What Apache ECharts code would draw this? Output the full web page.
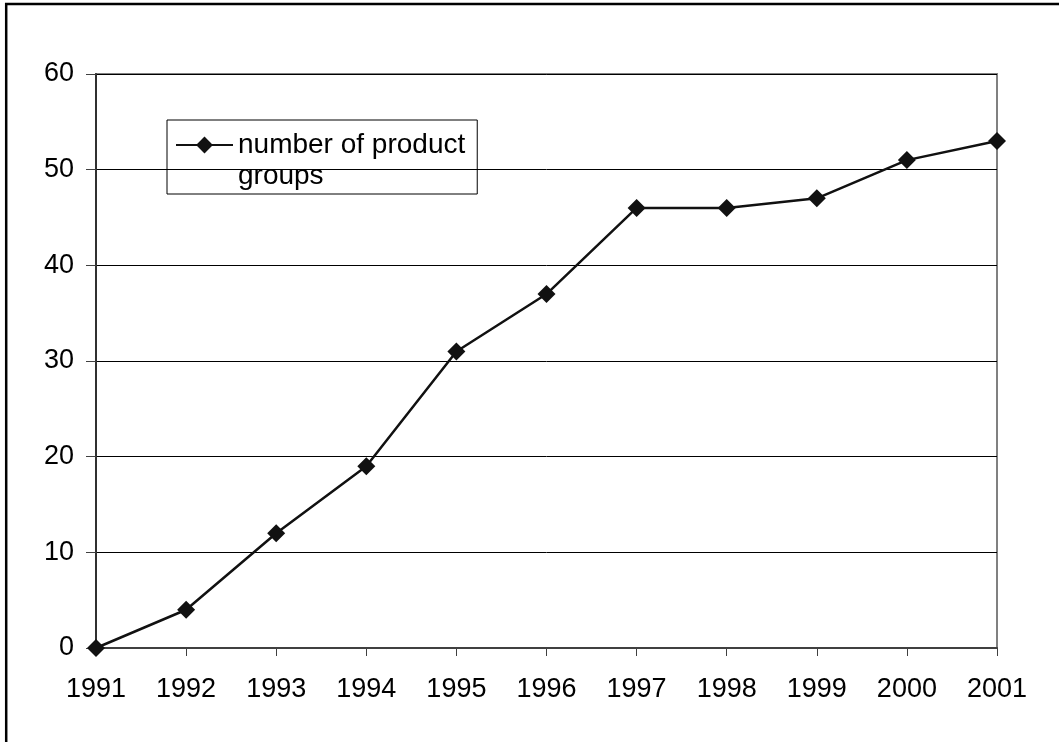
<!DOCTYPE html>
<html>
<head>
<meta charset="utf-8">
<script src="https://cdn.jsdelivr.net/npm/echarts@6/dist/echarts.min.js"></script>
<style>
html,body{margin:0;padding:0;background:#fff;}
#c{width:1059px;height:742px;}
</style>
</head>
<body>
<div id="c"></div>
<script>
const years = ['1991','1992','1993','1994','1995','1996','1997','1998','1999','2000','2001'];
const productGroups = [0, 4, 12, 19, 31, 37, 46, 46, 47, 51, 53];
const seriesName = 'number of product groups';
const legendLine1 = 'number of product';
const legendLine2 = 'groups';
const yMin = 0, yMax = 60, yStep = 10;

const chart = echarts.init(document.getElementById('c'));
const font = 'Liberation Sans, Arial, sans-serif';
chart.setOption({
  animation: false,
  backgroundColor: '#ffffff',
  grid: {
    left: 96, right: 62, top: 74, bottom: 94,
    show: true, borderColor: '#808080', borderWidth: 2, backgroundColor: 'transparent'
  },
  legend: {
    left: 167, top: 120,
    orient: 'vertical',
    padding: [10, 12, 34, 8],
    borderColor: '#000', borderWidth: 1,
    itemWidth: 57, itemHeight: 21, itemGap: 6,
    data: [{name: seriesName}],
    formatter: () => legendLine1,
    textStyle: {fontFamily: font, fontSize: 28, color: '#000', lineHeight: 30},
    selectedMode: false
  },
  graphic: [
    {type: 'line', shape: {x1: 5, y1: 4, x2: 1059, y2: 4}, style: {stroke: '#000', lineWidth: 2.5}, z: 100},
    {type: 'line', shape: {x1: 6.2, y1: 3, x2: 6.2, y2: 742}, style: {stroke: '#000', lineWidth: 2.5}, z: 100},
    {type: 'text', left: 238, top: 162, style: {text: legendLine2, font: '28px ' + font, fill: '#000'}, z: 100}
  ],
  xAxis: {
    type: 'category',
    data: years,
    boundaryGap: false,
    axisLine: {lineStyle: {color: '#404040', width: 2}},
    axisTick: {show: true, length: 8, inside: false, lineStyle: {color: '#404040', width: 1}},
    axisLabel: {fontFamily: font, fontSize: 27, color: '#000', margin: 28, interval: 0},
    splitLine: {show: false}
  },
  yAxis: {
    type: 'value',
    min: yMin, max: yMax, interval: yStep,
    axisLine: {show: true, lineStyle: {color: '#303030', width: 2}},
    axisTick: {show: true, length: 10, lineStyle: {color: '#404040', width: 1}},
    axisLabel: {fontFamily: font, fontSize: 27, color: '#000', margin: 22},
    splitLine: {show: true, lineStyle: {color: '#000', width: 1}}
  },
  series: [{
    name: seriesName,
    type: 'line',
    data: productGroups,
    symbol: 'diamond',
    symbolSize: 18,
    itemStyle: {color: '#111'},
    lineStyle: {color: '#111', width: 2.5},
    z: 5
  }]
});
</script>
</body>
</html>
